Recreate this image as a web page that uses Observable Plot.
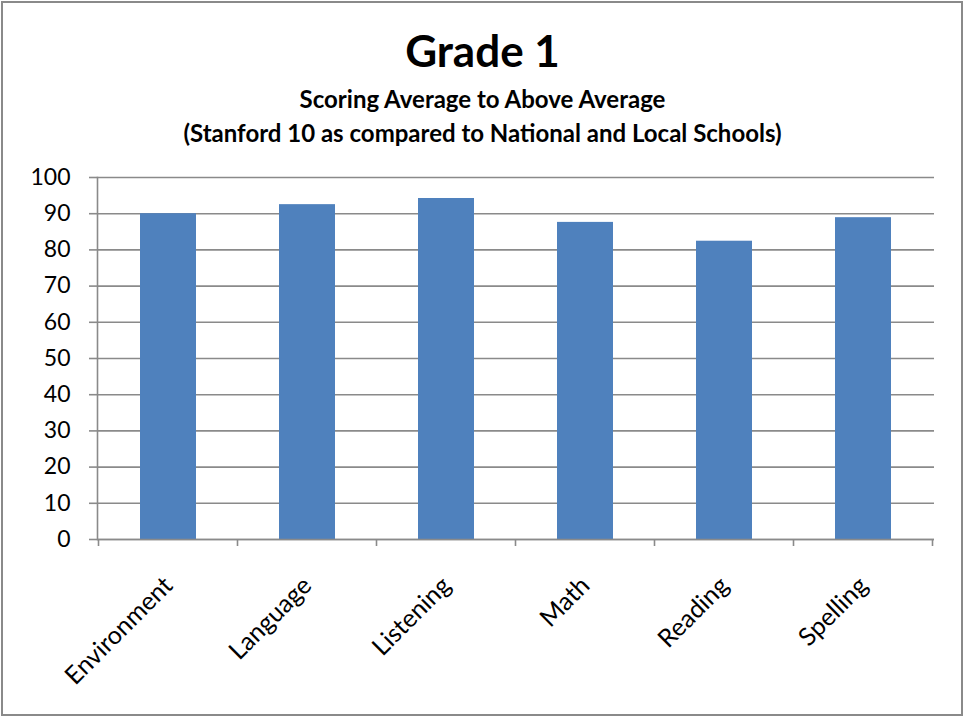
<!DOCTYPE html>
<html>
<head>
<meta charset="utf-8">
<script src="https://cdn.jsdelivr.net/npm/d3@7"></script>
<script src="https://cdn.jsdelivr.net/npm/@observablehq/plot@0.6"></script>
<style>
  html, body { margin: 0; padding: 0; background: #fff; }
  #frame { position: relative; width: 965px; height: 719px; overflow: hidden; font-family: Lato, "Open Sans", sans-serif; }
  #border { position: absolute; left: 1px; top: 1px; width: 962px; height: 715px; box-sizing: border-box; border: 2px solid #8a8a8a; }
  .t { position: absolute; left: 0; width: 965px; text-align: center; color: #000; font-weight: bold; white-space: nowrap; }
  #title { top: 24px; font-size: 44px; line-height: 52px; }
  #sub1 { top: 85px; font-size: 24px; line-height: 28px; }
  #sub2 { top: 119px; font-size: 24px; line-height: 28px; }
  #chart { position: absolute; left: 0; top: 150px; }
</style>
</head>
<body>
<div id="frame">
  <div id="border"></div>
  <div class="t" id="title">Grade 1</div>
  <div class="t" id="sub1">Scoring Average to Above Average</div>
  <div class="t" id="sub2">(Stanford 10 as compared to National and Local Schools)</div>
  <div id="chart"></div>
</div>
<script>
const categories = ["Environment", "Language", "Listening", "Math", "Reading", "Spelling"];
const scores = [90.0, 92.5, 94.2, 87.6, 82.4, 88.9];
const yTicks = [0, 10, 20, 30, 40, 50, 60, 70, 80, 90, 100];

const data = categories.map((c, i) => ({category: c, score: scores[i]}));
const gridColor = "#8a8a8a";

const plot = Plot.plot({
  width: 965,
  height: 560,
  marginTop: 27,
  marginBottom: 171,
  marginLeft: 97,
  marginRight: 31,
  style: {fontFamily: "Lato, 'Open Sans', sans-serif", fontSize: "23px", color: "#000", background: "transparent", overflow: "visible"},
  x: {domain: categories, paddingInner: 0.6, paddingOuter: 0.3, label: null},
  y: {domain: [0, 100], label: null},
  marks: [
    Plot.gridY(yTicks, {stroke: gridColor, strokeOpacity: 1, strokeWidth: 1.6}),
    Plot.barY(data, {x: "category", y: "score", fill: "#4F81BD"}),
    Plot.ruleY([0], {stroke: gridColor, strokeWidth: 1.6}),
    Plot.frame({anchor: "left", stroke: gridColor, strokeWidth: 1.6}),
    Plot.axisY(yTicks, {tickSize: 8, tickPadding: 19, stroke: gridColor, strokeWidth: 1.6, fill: "#000", fontSize: 23, label: null}),
    Plot.axisX({tickSize: 0, tickRotate: -45, tickPadding: 42, fill: "#000", fontSize: 25, label: null})
  ]
});

document.getElementById("chart").appendChild(plot);

// category-boundary tick marks on the x axis, derived from the band scale
const xs = plot.scale("x");
const ys = plot.scale("y");
const half = (xs.step - xs.bandwidth) / 2;
const bounds = categories.map(c => xs.apply(c) - half);
bounds.push(xs.apply(categories[categories.length - 1]) + xs.bandwidth + half);
const y0 = ys.apply(0);
d3.select(plot).append("g")
  .attr("stroke", gridColor)
  .attr("stroke-width", 1.6)
  .selectAll("line")
  .data(bounds)
  .join("line")
  .attr("x1", d => d).attr("x2", d => d)
  .attr("y1", y0).attr("y2", y0 + 7);
</script>
</body>
</html>
